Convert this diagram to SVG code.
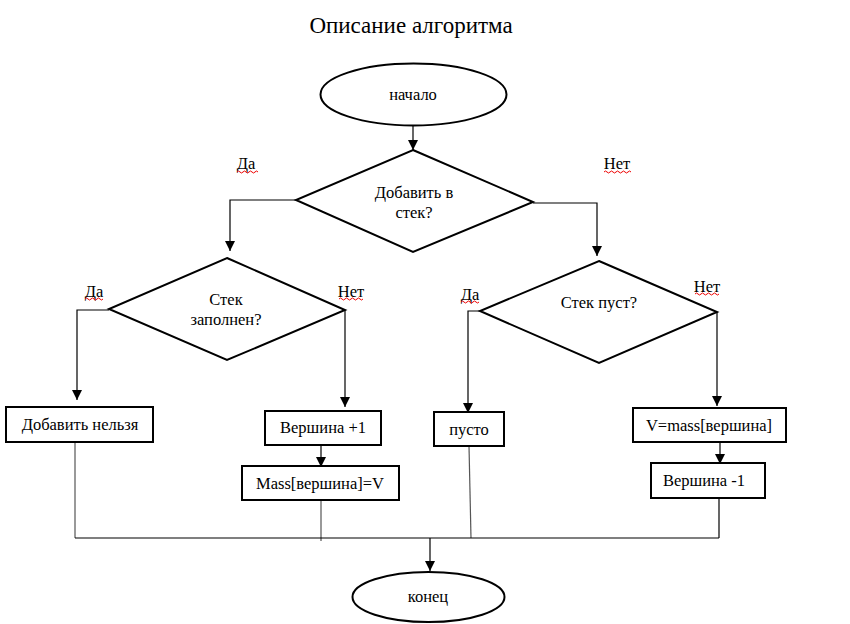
<svg xmlns="http://www.w3.org/2000/svg" width="850" height="624" viewBox="0 0 850 624" font-family="'Liberation Serif', 'DejaVu Serif', serif">
<defs>
<marker id="arr" markerWidth="10" markerHeight="10" refX="10" refY="5" orient="auto" markerUnits="userSpaceOnUse">
<path d="M0,0 L10,5 L0,10 z" fill="#000"/>
</marker>
<style>
text{fill:#000;text-anchor:middle}
.t{font-size:16.5px}
.title{font-size:23px}
.shape{fill:#fff;stroke:#000;stroke-width:2}
.ln{fill:none;stroke:#000;stroke-width:1.2}
.gl{fill:none;stroke:#555;stroke-width:1.2}
.sq{fill:none;stroke:#e00;stroke-width:1}
</style>
</defs>
<rect width="850" height="624" fill="#fff"/>
<text class="title" x="411" y="33">Описание алгоритма</text>

<g id="connectors">
<path class="ln" d="M413,126 V150" marker-end="url(#arr)"/>
<path class="ln" d="M296,200 H230 V251" marker-end="url(#arr)"/>
<path class="ln" d="M533,203 H597 V256" marker-end="url(#arr)"/>
<path class="ln" d="M109,310 H77 V400" marker-end="url(#arr)"/>
<path class="ln" d="M345,310 V407" marker-end="url(#arr)"/>
<path class="ln" d="M321,445 V467" marker-end="url(#arr)"/>
<path class="ln" d="M480,311 H468 V413" marker-end="url(#arr)"/>
<path class="ln" d="M717,312 V406" marker-end="url(#arr)"/>
<path class="ln" d="M720,442 V464" marker-end="url(#arr)"/>
<path class="gl" d="M75,442 V538"/>
<path class="gl" d="M321,500 V541"/>
<path class="gl" d="M469,446 L471,538"/>
<path class="ln" d="M719,498 V538"/>
<path class="ln" d="M75,538 H719"/>
<path class="ln" d="M430,538 V571" marker-end="url(#arr)"/>
</g>

<g id="labels">
<text class="t" x="246" y="169">Да</text>
<path class="sq" d="M237,172 q1.5,-2 3,0 t3,0 t3,0 t3,0 t3,0 t3,0 t3,0"/>
<text class="t" x="617" y="169">Нет</text>
<path class="sq" d="M604,172 q1.5,-2 3,0 t3,0 t3,0 t3,0 t3,0 t3,0 t3,0 t3,0 t3,0"/>
<text class="t" x="94" y="297">Да</text>
<path class="sq" d="M85,299 q1.5,-2 3,0 t3,0 t3,0 t3,0 t3,0 t3,0"/>
<text class="t" x="351" y="297">Нет</text>
<path class="sq" d="M339,299 q1.5,-2 3,0 t3,0 t3,0 t3,0 t3,0 t3,0 t3,0 t3,0"/>
<text class="t" x="470" y="300">Да</text>
<path class="sq" d="M461,302 q1.5,-2 3,0 t3,0 t3,0 t3,0 t3,0 t3,0"/>
<text class="t" x="707" y="292">Нет</text>
<path class="sq" d="M695,294 q1.5,-2 3,0 t3,0 t3,0 t3,0 t3,0 t3,0 t3,0 t3,0"/>
</g>

<g id="start">
<ellipse class="shape" cx="413.5" cy="94.5" rx="93" ry="31"/>
<text class="t" x="413" y="100">начало</text>
</g>

<g id="d1">
<polygon class="shape" points="413,150 533,202 413,252 296,200"/>
<text class="t" x="414" y="198">Добавить в</text>
<text class="t" x="414" y="218">стек?</text>
</g>

<g id="d2">
<polygon class="shape" points="227,258 345,310 227,360 109,309"/>
<text class="t" x="226" y="305">Стек</text>
<text class="t" x="226" y="325">заполнен?</text>
</g>

<g id="d3">
<polygon class="shape" points="599,261 717,312 599,363 480,311"/>
<text class="t" x="599" y="308">Стек пуст?</text>
</g>

<g id="b1">
<rect class="shape" x="6" y="407" width="147" height="35"/>
<text class="t" x="80" y="430">Добавить нельзя</text>
</g>

<g id="b2">
<rect class="shape" x="265" y="411" width="116" height="34"/>
<text class="t" x="323" y="433">Вершина +1</text>
</g>

<g id="b3">
<rect class="shape" x="242" y="466" width="157" height="34"/>
<text class="t" x="320" y="489">Mass[вершина]=V</text>
</g>

<g id="b4">
<rect class="shape" x="434" y="412" width="70" height="34"/>
<text class="t" x="469" y="435">пусто</text>
</g>

<g id="b5">
<rect class="shape" x="633" y="408" width="153" height="34"/>
<text class="t" x="709" y="431">V=mass[вершина]</text>
</g>

<g id="b6">
<rect class="shape" x="651" y="463" width="114" height="35"/>
<text class="t" x="704" y="486">Вершина -1</text>
</g>

<g id="end">
<ellipse class="shape" cx="428.5" cy="597" rx="76" ry="25"/>
<text class="t" x="428" y="602">конец</text>
</g>
</svg>
